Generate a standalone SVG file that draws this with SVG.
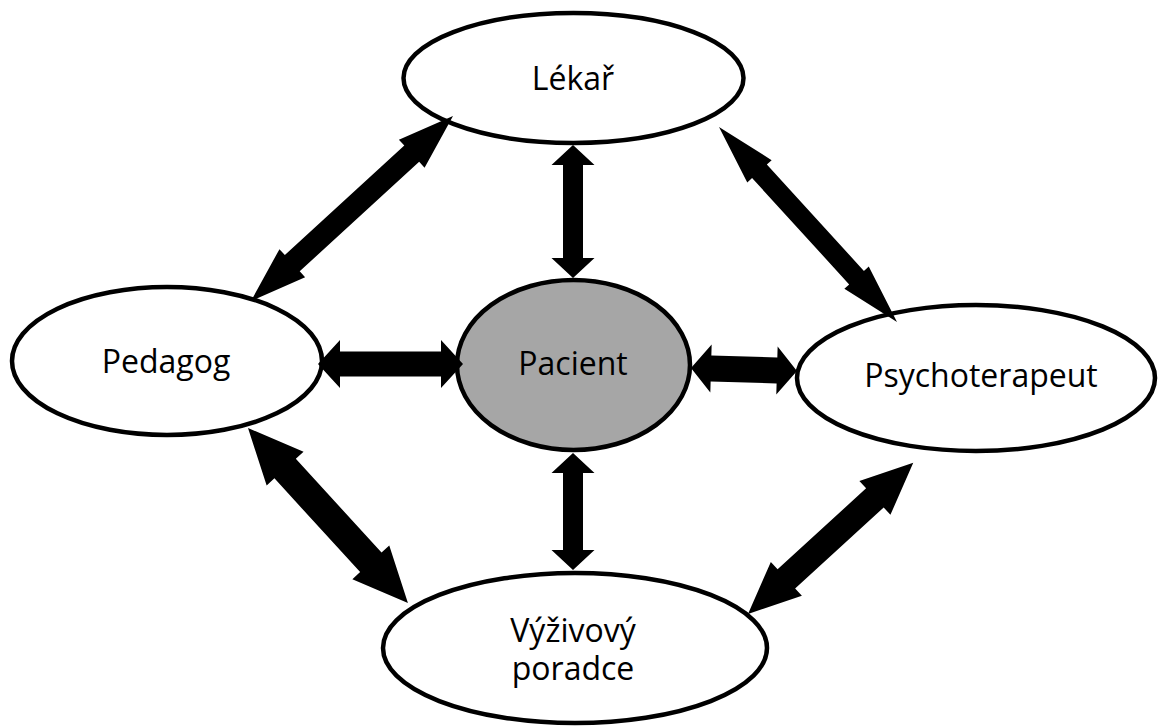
<svg xmlns="http://www.w3.org/2000/svg" width="1158" height="726" viewBox="0 0 1158 726">
<style>
.node ellipse{fill:#fff;stroke:#000;stroke-width:4.5}
.node text{font-family:"Open Sans","Liberation Sans",sans-serif;font-size:32px;fill:#000;text-anchor:middle}
.conn polygon{fill:#000;stroke:none}
</style>
<rect width="1158" height="726" fill="#fff"/>
<g id="lekar" class="node">
<ellipse cx="573.5" cy="78" rx="170" ry="65"/>
<text x="573" y="90">Lékař</text>
</g>
<g id="pedagog" class="node">
<ellipse cx="167" cy="361" rx="155" ry="74"/>
<text x="166" y="373">Pedagog</text>
</g>
<g id="pacient" class="node">
<ellipse cx="573.5" cy="365" rx="116.5" ry="85" style="fill:#a6a6a6"/>
<text x="573" y="375">Pacient</text>
</g>
<g id="psychoterapeut" class="node">
<ellipse cx="976" cy="378" rx="179" ry="73"/>
<text x="981" y="387">Psychoterapeut</text>
</g>
<g id="vyzivovy" class="node">
<ellipse cx="575" cy="648" rx="192" ry="75"/>
<text x="573" y="642">Výživový</text>
<text x="573" y="680">poradce</text>
</g>
<g id="connectors" class="conn">
<polygon transform="translate(251,301) rotate(-42.5)" points="0,0 56,-19 56,-11 218,-11 218,-19 274,0 218,19 218,11 56,11 56,19"/>
<polygon transform="translate(719,127) rotate(47.6)" points="0,0 60,-16.5 60,-10 204,-10 204,-16.5 264,0 204,16.5 204,10 60,10 60,16.5"/>
<polygon transform="translate(248,428) rotate(47.56)" points="0,0 55,-25 55,-14.5 182,-14.5 182,-25 237,0 182,25 182,14.5 55,14.5 55,25"/>
<polygon transform="translate(748,614) rotate(-42.46)" points="0,0 52,-23 52,-13 172,-13 172,-23 224,0 172,23 172,13 52,13 52,23"/>
<polygon transform="translate(573,145) rotate(90)" points="0,0 20,-21.5 20,-10 113,-10 113,-21.5 133,0 113,21.5 113,10 20,10 20,21.5"/>
<polygon transform="translate(573,453) rotate(90)" points="0,0 20,-21.5 20,-10 97,-10 97,-21.5 117,0 97,21.5 97,10 20,10 20,21.5"/>
<polygon transform="translate(318,364)" points="0,0 22,-24 22,-12.5 123,-12.5 123,-24 145,0 123,24 123,12.5 22,12.5 22,24"/>
<polygon transform="translate(691,368) rotate(1.6)" points="0,0 20,-24 20,-13 86,-13 86,-24 106,0 86,24 86,13 20,13 20,24"/>
</g>
</svg>
